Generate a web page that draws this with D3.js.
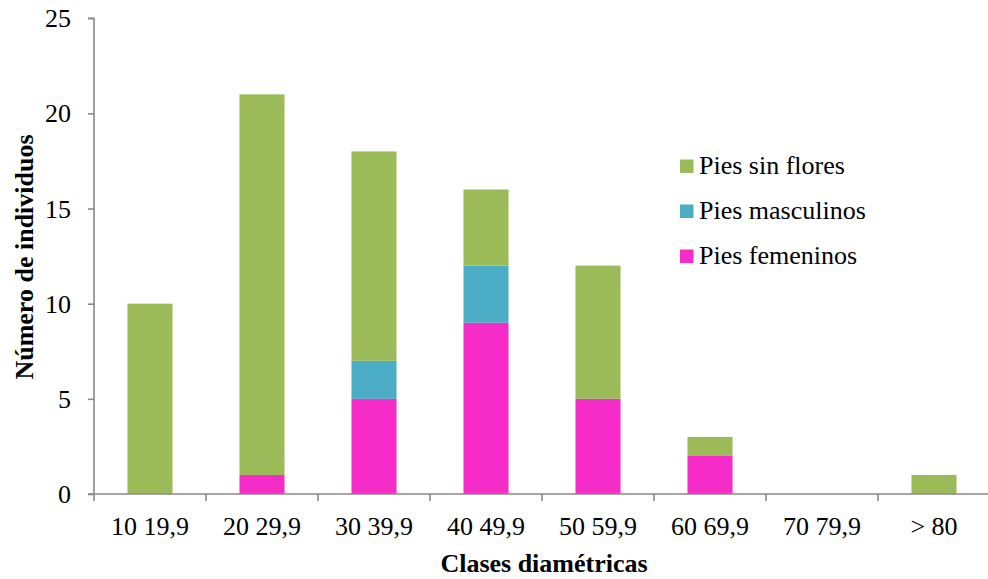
<!DOCTYPE html>
<html><head><meta charset="utf-8">
<script src="https://cdn.jsdelivr.net/npm/d3@7"></script>
<style>body{margin:0;background:#fff}svg{display:block}</style>
</head><body><svg id="c" width="988" height="579"></svg>
<script>
const categories = ["10 19,9","20 29,9","30 39,9","40 49,9","50 59,9","60 69,9","70 79,9","> 80"];
const femeninos = [0,1,5,9,5,2,0,0];
const masculinos = [0,0,2,3,0,0,0,0];
const sinFlores = [10,20,11,4,7,1,0,1];
const colors = ["#F52CC8","#4BACC6","#9BBB59"];
const yTicks = [0,5,10,15,20,25];

const FONT = "'Times New Roman', Times, 'Liberation Serif', serif";
const FS = "26px";
const svg = d3.select("#c").attr("font-family", FONT);
const W = 988, H = 579;
const m = {l:94, r:-2, t:18.2, b:85};
const x = d3.scaleBand().domain(categories).range([m.l, W - m.r]).paddingInner(0.598).paddingOuter(0.299);
const xTickScale = d3.scaleBand().domain(categories).range([m.l, W - m.r]);
const y = d3.scaleLinear().domain([0,25]).range([H - m.b, m.t]);

const rows = categories.map((c,i)=>({cat:c, f:femeninos[i], m:masculinos[i], s:sinFlores[i]}));
const stack = d3.stack().keys(["f","m","s"])(rows);

svg.append("g").selectAll("g").data(stack).join("g").attr("fill",(d,i)=>colors[i])
  .selectAll("rect").data(d=>d).join("rect")
  .attr("x",d=>x(d.data.cat)).attr("width",x.bandwidth())
  .attr("y",d=>y(d[1])).attr("height",d=>y(d[0])-y(d[1]));

const axisColor = "#898989";
const ya = svg.append("g").attr("transform",`translate(${m.l},0)`)
  .call(d3.axisLeft(y).tickValues(yTicks).tickSize(6).tickPadding(17));
ya.attr("font-family", FONT).attr("font-size", null);
ya.select(".domain").attr("stroke",axisColor).attr("stroke-width",1.6).attr("d",`M-6,${y(25)}H0V${y(0)}`);
ya.selectAll(".tick line").attr("stroke",axisColor).attr("stroke-width",1.6);
ya.selectAll(".tick text").attr("font-family", FONT).style("font-size",FS).attr("fill","#000").attr("dy","0.33em");

const xa = svg.append("g").attr("transform",`translate(0,${y(0)})`);
xa.append("line").attr("x1",m.l - 6).attr("x2",W).attr("y1",0).attr("y2",0).attr("stroke",axisColor).attr("stroke-width",1.6);
const tickXs = categories.map(c=>xTickScale(c));
xa.selectAll("line.t").data(tickXs).join("line").attr("class","t")
  .attr("x1",d=>d).attr("x2",d=>d).attr("y1",0).attr("y2",7).attr("stroke",axisColor).attr("stroke-width",1.6);
xa.selectAll("text").data(categories).join("text")
  .attr("x",d=>x(d)+x.bandwidth()/2).attr("y",41).attr("text-anchor","middle").attr("font-family", FONT).style("font-size",FS).text(d=>d);

svg.append("text").attr("x",544).attr("y",572).attr("text-anchor","middle").attr("font-weight","bold").style("font-size",FS).text("Clases diamétricas");
svg.append("text").attr("transform",`translate(33,257) rotate(-90)`).attr("text-anchor","middle").attr("font-weight","bold").style("font-size",FS).text("Número de individuos");

const legend = [{n:"Pies sin flores",c:colors[2]},{n:"Pies masculinos",c:colors[1]},{n:"Pies femeninos",c:colors[0]}];
const lg = svg.append("g").selectAll("g").data(legend).join("g").attr("transform",(d,i)=>`translate(680,${159.5 + i*45})`);
lg.append("rect").attr("width",13.5).attr("height",13.5).attr("fill",d=>d.c);
lg.append("text").attr("x",19).attr("y",14.5).style("font-size",FS).text(d=>d.n);
</script></body></html>
